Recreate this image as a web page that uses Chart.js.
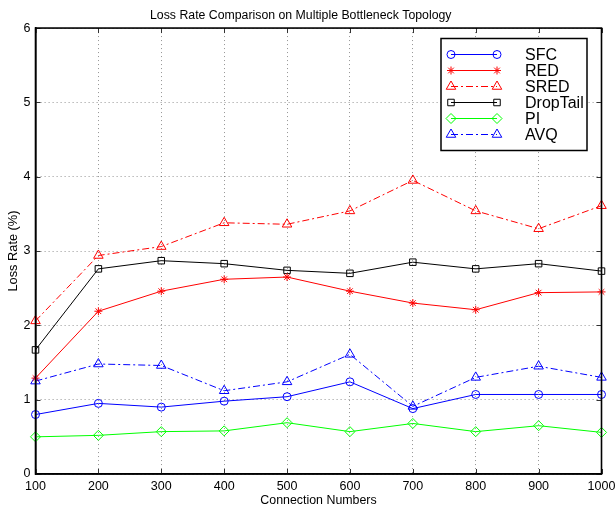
<!DOCTYPE html>
<html>
<head>
<meta charset="utf-8">
<script src="https://cdn.jsdelivr.net/npm/chart.js@4.4.1/dist/chart.umd.min.js"></script>
<style>
  html, body { margin: 0; padding: 0; background: #fff; }
  #wrap { width: 615px; height: 508px; }
</style>
</head>
<body>
<div id="wrap"><canvas id="lossChart" width="615" height="508"></canvas></div>
<script>
// connection counts on the x axis
const connections = [100, 200, 300, 400, 500, 600, 700, 800, 900, 1000];
const yTicks = [0, 1, 2, 3, 4, 5, 6];

// loss rate (%) per scheme
const sfc      = [0.80, 0.95, 0.90, 0.98, 1.04, 1.24, 0.88, 1.07, 1.07, 1.07];
const red      = [1.29, 2.19, 2.46, 2.62, 2.65, 2.46, 2.30, 2.21, 2.44, 2.45];
const sred     = [2.06, 2.94, 3.06, 3.38, 3.36, 3.54, 3.95, 3.54, 3.30, 3.61];
const dropTail = [1.67, 2.76, 2.87, 2.83, 2.74, 2.70, 2.85, 2.76, 2.83, 2.73];
const pi       = [0.50, 0.52, 0.57, 0.58, 0.69, 0.57, 0.68, 0.57, 0.65, 0.56];
const avq      = [1.25, 1.48, 1.46, 1.12, 1.24, 1.61, 0.91, 1.30, 1.45, 1.30];

const FONT = "'Liberation Sans', Arial, Helvetica, sans-serif";
const dashDot = [7, 3, 2, 3];
const gridColor = 'rgba(0,0,0,0.42)';

function series(label, data, color, style, radius, dash) {
    return {
        label: label,
        data: data,
        borderColor: color,
        backgroundColor: color,
        borderWidth: 1,
        borderDash: dash || [],
        pointStyle: style,
        pointRadius: radius,
        pointHoverRadius: radius,
        pointBorderColor: color,
        pointBackgroundColor: 'rgba(0,0,0,0)',
        pointBorderWidth: 1,
        tension: 0,
        fill: false,
        clip: false
    };
}

// frame on all four sides with matlab style inward ticks
const framePlugin = {
    id: 'frame',
    afterDatasetsDraw(chart) {
        const c = chart.ctx;
        const a = chart.chartArea;
        const xs = chart.scales.x, ys = chart.scales.y;
        c.save();
        c.strokeStyle = '#333';
        c.lineWidth = 1;
        c.beginPath();
        for (let i = 0; i < connections.length; i++) {
            const px = Math.round(xs.getPixelForTick(i)) + 0.5;
            c.moveTo(px, a.bottom); c.lineTo(px, a.bottom - 5);
            c.moveTo(px, a.top); c.lineTo(px, a.top + 5);
        }
        for (let i = 0; i < ys.ticks.length; i++) {
            const py = Math.round(ys.getPixelForTick(i)) + 0.5;
            c.moveTo(a.left, py); c.lineTo(a.left + 5, py);
            c.moveTo(a.right, py); c.lineTo(a.right - 5, py);
        }
        c.stroke();
        c.strokeStyle = '#000';
        c.lineWidth = 1.6;
        c.strokeRect(a.left, a.top, a.right - a.left, a.bottom - a.top);
        c.restore();
    }
};

// legend box in the upper right corner of the plot
const boxLegend = {
    id: 'boxLegend',
    afterDraw(chart) {
        const c = chart.ctx;
        const x0 = 441, y0 = 38.5, w = 146, h = 112;
        c.save();
        c.fillStyle = '#fff';
        c.fillRect(x0, y0, w, h);
        c.strokeStyle = '#000';
        c.lineWidth = 1.5;
        c.strokeRect(x0, y0, w, h);
        chart.data.datasets.forEach(function(ds, i) {
            const y = 54.5 + i * 16;
            c.strokeStyle = ds.borderColor;
            c.lineWidth = 1;
            c.setLineDash(ds.borderDash);
            c.beginPath();
            c.moveTo(451, y);
            c.lineTo(497, y);
            c.stroke();
            c.setLineDash([]);
            [451, 497].forEach(function(px) {
                c.fillStyle = 'rgba(0,0,0,0)';
                c.strokeStyle = ds.borderColor;
                Chart.helpers.drawPoint(c, {
                    pointStyle: ds.pointStyle,
                    radius: ds.pointRadius,
                    rotation: 0,
                    borderWidth: 1
                }, px, y);
            });
            c.fillStyle = '#000';
            c.font = '16px ' + FONT;
            c.textBaseline = 'middle';
            c.textAlign = 'left';
            c.fillText(ds.label, 525, y + 1);
        });
        c.restore();
    }
};

const ctx = document.getElementById('lossChart').getContext('2d');
window.lossChart = new Chart(ctx, {
    type: 'line',
    data: {
        labels: connections,
        datasets: [
            series('SFC', sfc, '#0000ff', 'circle', 4),
            series('RED', red, '#ff0000', 'star', 4),
            series('SRED', sred, '#ff0000', 'triangle', 5.5, dashDot),
            series('DropTail', dropTail, '#000000', 'rect', 4.6),
            series('PI', pi, '#00ff00', 'rectRot', 5),
            series('AVQ', avq, '#0000ff', 'triangle', 5.5, dashDot)
        ]
    },
    options: {
        responsive: false,
        animation: false,
        events: [],
        layout: { padding: { left: 0, right: 13.5, top: 0, bottom: 0 } },
        plugins: {
            legend: { display: false },
            tooltip: { enabled: false },
            title: {
                display: true,
                text: 'Loss Rate Comparison on Multiple Bottleneck Topology',
                color: '#000',
                font: { family: FONT, size: 12.3, weight: 'normal' },
                padding: { top: 8, bottom: 5.3 }
            }
        },
        scales: {
            x: {
                type: 'category',
                offset: false,
                grid: { color: gridColor, lineWidth: 1, drawTicks: false },
                border: { display: true, color: '#000', width: 1.6, dash: [1, 3] },
                ticks: {
                    color: '#000',
                    padding: 5,
                    maxRotation: 0,
                    autoSkip: false,
                    font: { family: FONT, size: 12.5 }
                },
                title: {
                    display: true,
                    text: 'Connection Numbers',
                    color: '#000',
                    font: { family: FONT, size: 12.4 },
                    padding: { top: 0, bottom: 0 }
                },
                afterFit(scale) {
                    scale.height = 34;
                    scale.paddingLeft = 0;
                    scale.paddingRight = 0;
                }
            },
            y: {
                min: 0,
                max: 6,
                grid: { color: gridColor, lineWidth: 1, drawTicks: false },
                border: { display: true, color: '#000', width: 1.6, dash: [1, 3] },
                afterBuildTicks(scale) {
                    scale.ticks = yTicks.map(function(v) { return { value: v }; });
                },
                ticks: {
                    color: '#000',
                    padding: 5,
                    font: { family: FONT, size: 12.5 }
                },
                title: {
                    display: true,
                    text: 'Loss Rate (%)',
                    color: '#000',
                    font: { family: FONT, size: 12.8 },
                    padding: { top: 6, bottom: 0 }
                },
                afterFit(scale) {
                    scale.width = 35.5;
                    scale.paddingTop = 0;
                    scale.paddingBottom = 0;
                }
            }
        }
    },
    plugins: [framePlugin, boxLegend]
});
</script>
</body>
</html>
